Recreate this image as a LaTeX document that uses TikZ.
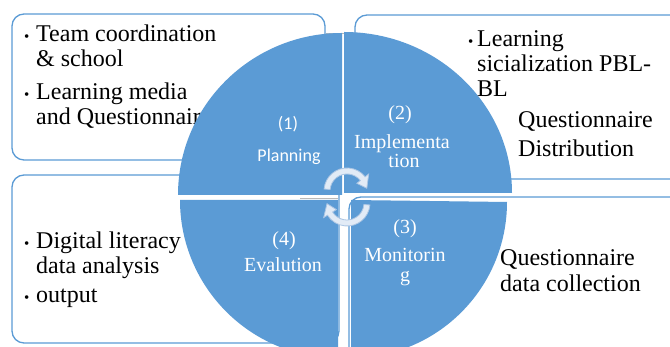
\documentclass[tikz,border=0pt]{standalone}
\usepackage{fontspec}
\setmainfont{Liberation Serif}
\newfontfamily\carlito{Carlito}
\usepackage{tikz}
\definecolor{cycblue}{RGB}{91,155,213}
\definecolor{arrowfill}{RGB}{226,235,246}
\definecolor{arrowline}{RGB}{172,198,228}

\begin{document}
\begin{tikzpicture}[x=1pt, y=1pt,
  box/.style={draw=cycblue, line width=1.3pt, rounded corners=12pt, fill=white},
  quad/.style={fill=cycblue},
  txt/.style={inner sep=0pt, anchor=base west, font=\fontsize{24}{25}\selectfont},
  wtxt/.style={inner sep=0pt, anchor=base, text=white, font=\fontsize{20}{21}\selectfont},
  wsans/.style={inner sep=0pt, anchor=base, text=white, font=\carlito\fontsize{18}{19}\selectfont},
  cyc/.style={fill=arrowfill, draw=arrowline, line width=0.8pt}]
\useasboundingbox (0,0) rectangle (670,347);
\clip (0,0) rectangle (670,347);
% boxes behind the circle
\draw[box] (12,333) rectangle (325,187);
\draw[box] (355,332) rectangle (690,168);
\draw[box] (12,172) rectangle (339,4);
\draw[box] (349,150) rectangle (690,-20);
\draw[gray!55, line width=0.6pt] (326,314) -- (355,314);
\draw[gray!55, line width=0.6pt] (300,149) -- (338,149);
\node[txt] (TextTL) at (24,305) {\begin{tabular}[t]{@{}l@{}l@{}}\makebox[12pt][l]{\fontsize{15}{15}\selectfont\textbullet}&Team coordination\\&\& school\\[8pt]\makebox[12pt][l]{\fontsize{15}{15}\selectfont\textbullet}&Learning media\\&and Questionnaire\end{tabular}};
% four quarters
\fill[quad] (342,152) -- ++(0,162) arc[start angle=90, end angle=180, x radius=164, y radius=162] -- cycle;
\fill[quad] (344,154) -- ++(168,0) arc[start angle=0, end angle=90, x radius=168, y radius=161] -- cycle;
\fill[quad] (338,147) -- ++(-158,0) arc[start angle=180, end angle=270, radius=158] -- cycle;
\fill[quad] (351,147) -- ++(0,-158) arc[start angle=270, end angle=360, radius=156] -- cycle;
% cycle arrows
\filldraw[cyc, shift={(347,156)}] (175:23) arc[start angle=175, end angle=38, radius=23] -- (38:27.5) -- (8:20) -- (38:12.5) -- (38:17) arc[start angle=38, end angle=175, radius=17] -- cycle;
\filldraw[cyc, shift={(347,144)}] (-5:23) arc[start angle=-5, end angle=-148, radius=23] -- (-148:27.5) -- (-178:20) -- (-148:12.5) -- (-148:17) arc[start angle=-148, end angle=-5, radius=17] -- cycle;
% quarter labels
\node[wsans] (Num1) at (288,217) {(1)};
\node[wsans] (Name1) at (289,185) {Planning};
\node[wtxt] (Num2) at (400,227) {(2)};
\node[wtxt] (Name2) at (402,198) {Implementa};
\node[wtxt] (Name2b) at (404,179) {tion};
\node[wtxt] (Num3) at (405,113) {(3)};
\node[wtxt] (Name3) at (405,85) {Monitorin};
\node[wtxt] (Name3b) at (405,65) {g};
\node[wtxt] (Num4) at (284,101) {(4)};
\node[wtxt] (Name4) at (283,75) {Evalution};
% box texts
\node[txt] (TextTR) at (468,300) {\begin{tabular}[t]{@{}l@{}l@{}}\makebox[9pt][l]{\fontsize{15}{15}\selectfont\textbullet}&Learning\\&sicialization PBL-\\&BL\end{tabular}};
\node[txt, font=\fontsize{24}{29}\selectfont] (TextTR2) at (518,219) {\begin{tabular}[t]{@{}l@{}}Questionnaire\\Distribution\end{tabular}};
\node[txt, font=\fontsize{24}{26}\selectfont] (TextBR) at (500,81) {\begin{tabular}[t]{@{}l@{}}Questionnaire\\data collection\end{tabular}};
\node[txt] (TextBL) at (24,98) {\begin{tabular}[t]{@{}l@{}l@{}}\makebox[12pt][l]{\fontsize{15}{15}\selectfont\textbullet}&Digital literacy\\&data analysis\\[4pt]\makebox[12pt][l]{\fontsize{15}{15}\selectfont\textbullet}&output\end{tabular}};
\end{tikzpicture}
\end{document}
